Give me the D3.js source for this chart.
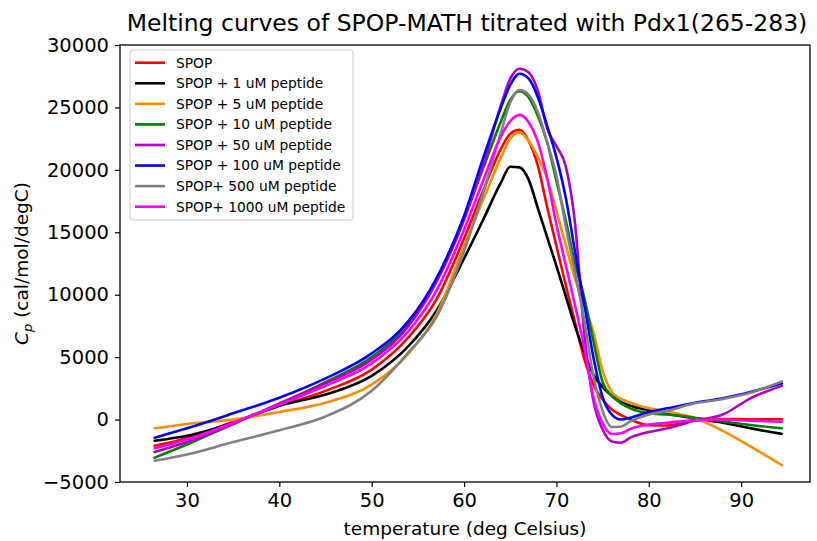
<!DOCTYPE html>
<html><head><meta charset="utf-8">
<script src="https://cdn.jsdelivr.net/npm/d3@7"></script>
<style>
body{margin:0;background:#fff}
svg{display:block}
text{font-family:"DejaVu Sans",sans-serif;fill:#000}
</style>
</head><body>
<svg id="chart" width="817" height="541"></svg>
<script>
// ---------- data ----------
const temperature = [26.5, 30, 35, 40, 45, 50, 54, 57, 60, 62, 64, 65, 66, 67, 68, 69, 70, 71, 72, 73, 74, 75, 76, 77, 78, 80, 82, 85, 88, 91, 94.4];

const seriesNames = ["SPOP", "SPOP + 1 uM peptide", "SPOP + 5 uM peptide", "SPOP + 10 uM peptide",
  "SPOP + 50 uM peptide", "SPOP + 100 uM peptide", "SPOP+ 500 uM peptide", "SPOP+ 1000 uM peptide"];
const seriesColors = ["#ff0000", "#000000", "#ff8c00", "#008000", "#b000c4", "#0000ff", "#808080", "#ff00ff"];

const cpSPOP     = [-2100,-1500,-200,1100,2300,4000,6600,9600,14500,18200,21700,22900,23200,22300,20300,17000,13900,10800,7800,4900,2800,1600,800,350,0,-450,-480,-50,50,20,20];
const cpPep1     = [-1700,-1300,-250,1100,2000,3500,5900,8700,12900,15900,19000,20250,20200,19200,16900,14600,12300,9900,7500,5400,3600,2600,1900,1400,1100,750,450,100,-250,-700,-1150];
const cpPep5     = [-700,-350,0,600,1350,2800,5300,8400,13900,17500,21000,22500,23000,22300,21000,19300,16700,14000,11300,9200,7000,3900,2200,1650,1350,900,650,100,-900,-2150,-3650];
const cpPep10    = [-3050,-2000,-350,1250,3000,5000,7700,11200,16200,20000,23900,25600,26300,25800,24300,22200,19100,16000,12500,9800,6300,3000,1900,1300,900,500,400,150,-150,-430,-700];
const cpPep50    = [-2600,-1800,-350,1300,2900,4800,7500,11000,16000,20200,25200,27300,28100,27800,26300,23300,21900,20300,15800,7000,1500,-800,-1750,-1850,-1450,-1000,-700,-100,400,1700,2700];
const cpPep100   = [-1450,-700,500,1750,3300,5300,7900,11300,16300,20800,25000,26800,27700,27300,25800,23500,21000,17800,13500,9300,5000,1800,400,0,150,600,900,1350,1700,2200,2900];
const cpPep500   = [-3300,-2800,-1800,-850,250,2300,5400,8200,13500,18000,23000,25400,26400,26000,24600,22200,19500,15500,11800,8000,3500,700,-600,-550,-150,400,700,1300,1650,2150,3050];
const cpPep1000  = [-2300,-1600,-250,1200,2700,4500,7100,10300,15200,19000,22700,23900,24400,23800,22200,19300,15600,12400,9200,5800,1800,-300,-1150,-1100,-750,-400,-250,-50,0,-100,-170];

const xTicks = [30, 40, 50, 60, 70, 80, 90];
const yTicks = [-5000, 0, 5000, 10000, 15000, 20000, 25000, 30000];

const titleText = "Melting curves of SPOP-MATH titrated with Pdx1(265-283)";
const xLabelText = "temperature (deg Celsius)";

const allSeries = [cpSPOP, cpPep1, cpPep5, cpPep10, cpPep50, cpPep100, cpPep500, cpPep1000];

// ---------- layout ----------
const svg = d3.select("#chart");
const L = 120, R = 810, T = 45, B = 482;
const x = d3.scaleLinear().domain([22.75, 97.45]).range([L, R]);
const y = d3.scaleLinear().domain([-5000, 30000]).range([B, T]);

// curves
const line = d3.line().x(d => x(d[0])).y(d => y(d[1])).curve(d3.curveMonotoneX);
const plot = svg.append("g");
allSeries.forEach((vals, i) => {
  plot.append("path")
    .datum(temperature.map((t, k) => [t, vals[k]]))
    .attr("d", line)
    .attr("fill", "none")
    .attr("stroke", seriesColors[i])
    .attr("stroke-width", 2.6)
    .attr("stroke-linejoin", "round")
    .attr("stroke-linecap", "round");
});

// axes
const xAxis = d3.axisBottom(x).tickValues(xTicks).tickSize(5).tickPadding(6).tickFormat(d3.format("d"));
const yAxis = d3.axisLeft(y).tickValues(yTicks).tickSize(5).tickPadding(6)
  .tickFormat(d => d < 0 ? "\u2212" + Math.abs(d) : String(d));
const gx = svg.append("g").attr("transform", `translate(0,${B})`).call(xAxis);
const gy = svg.append("g").attr("transform", `translate(${L},0)`).call(yAxis);
[gx, gy].forEach(g => {
  g.select(".domain").remove();
  g.selectAll("line").attr("stroke", "#000").attr("stroke-width", 1.2);
  g.selectAll("text").attr("font-size", "19.5px").attr("font-family", "DejaVu Sans, sans-serif").attr("fill", "#000");
});

// frame
svg.append("rect").attr("x", L).attr("y", T).attr("width", R - L).attr("height", B - T)
  .attr("fill", "none").attr("stroke", "#000").attr("stroke-width", 1.3);

// title
svg.append("text").attr("x", 467).attr("y", 31).attr("text-anchor", "middle")
  .attr("font-size", "23.5px").text(titleText);

// x label
svg.append("text").attr("x", (L + R) / 2).attr("y", 535).attr("text-anchor", "middle")
  .attr("font-size", "18.5px").text(xLabelText);

// y label
const yl = svg.append("text").attr("transform", `translate(28,${(T + B) / 2}) rotate(-90)`)
  .attr("text-anchor", "middle").attr("font-size", "18.5px");
yl.append("tspan").attr("font-style", "italic").text("C");
yl.append("tspan").attr("font-style", "italic").attr("font-size", "13px").attr("dy", "4").text("p");
yl.append("tspan").attr("dy", "-4").text(" (cal/mol/degC)");

// legend
const lg = svg.append("g");
lg.append("rect").attr("x", 130).attr("y", 50).attr("width", 223).attr("height", 170)
  .attr("rx", 3).attr("fill", "#fff").attr("fill-opacity", 0.8).attr("stroke", "#cccccc").attr("stroke-width", 1);
seriesNames.forEach((name, i) => {
  const yy = 62.7 + i * 20.57;
  lg.append("line").attr("x1", 135).attr("x2", 165).attr("y1", yy).attr("y2", yy)
    .attr("stroke", seriesColors[i]).attr("stroke-width", 2.6);
  lg.append("text").attr("x", 176).attr("y", yy).attr("dy", "0.35em")
    .attr("font-size", "13.8px").text(name);
});
</script>
</body></html>
